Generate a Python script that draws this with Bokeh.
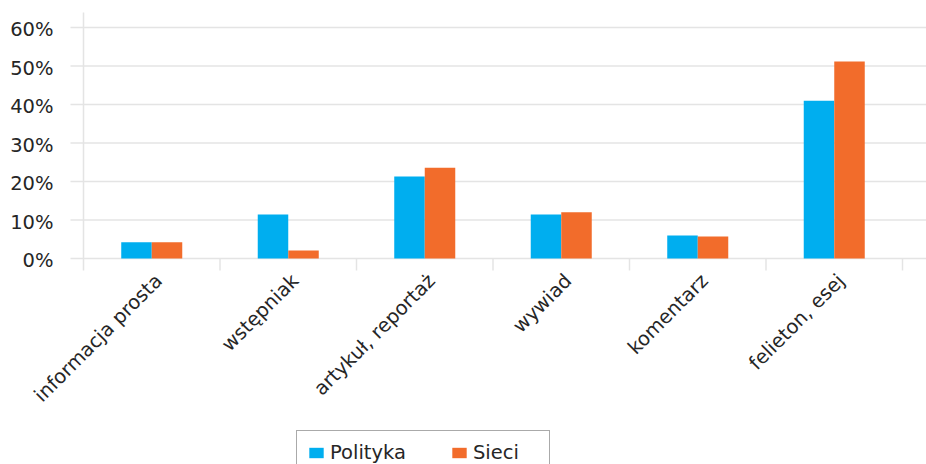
import math
from bokeh.plotting import figure
from bokeh.models import ColumnDataSource, Range1d, Legend, LegendItem
from bokeh.core.properties import value
from bokeh.transform import dodge
from bokeh.embed import file_html
from bokeh.resources import INLINE

categories = ["informacja prosta", "wstępniak", "artykuł, reportaż",
              "wywiad", "komentarz", "felieton, esej"]
polityka = [4.2, 11.4, 21.3, 11.4, 6.0, 41.0]
sieci = [4.2, 2.1, 23.6, 12.0, 5.7, 51.2]
y_ticks = [0, 10, 20, 30, 40, 50, 60]
y_tick_labels = ["0%", "10%", "20%", "30%", "40%", "50%", "60%"]
series_names = ["Polityka", "Sieci"]
colors = ["#00AEEF", "#F26C2B"]

# ---- layout constants (pixels) ----
W, H = 926, 464
GRID_LEFT = 70              # gridlines start here
TOP = 12                    # top of category axis line
ZERO_Y = 258                # pixel row of 0 %
UNIT = 136.5                # px per category
PXY = 3.85                  # px per percent
AXIS_X = 83                 # pixel column of category boundary 0
YLAB_RIGHT = 53             # right edge of y tick labels
FONT = "DejaVu Sans"
FS = "19.5px"
TXT = "#262626"
GRID = "#e4e4e4"

centers = [i + 0.5 for i in range(len(categories))]
src = ColumnDataSource(dict(x=centers, cat=categories, pol=polityka, sie=sieci))

# the plotting frame covers the whole canvas; pixel constants are converted
x0 = -AXIS_X / UNIT
x1 = (W - AXIS_X) / UNIT
y1 = ZERO_Y / PXY
y0 = -(H - ZERO_Y) / PXY

p = figure(width=W, height=H, output_backend="svg", toolbar_location=None,
           x_range=Range1d(x0, x1), y_range=Range1d(y0, y1),
           x_axis_location=None, y_axis_location=None,
           min_border_left=0, min_border_right=0, min_border_top=0,
           min_border_bottom=0)
p.outline_line_color = None
p.grid.visible = False

# horizontal gridlines
gx0 = (GRID_LEFT - AXIS_X) / UNIT
p.segment(x0=[gx0] * len(y_ticks), y0=y_ticks, x1=[x1] * len(y_ticks),
          y1=y_ticks, line_color=GRID, line_width=1.5)

# y tick labels
p.text(x=[(YLAB_RIGHT - AXIS_X) / UNIT] * len(y_ticks), y=y_ticks,
       text=y_tick_labels, text_align="right", text_baseline="middle",
       y_offset=2, text_font=value(FONT), text_font_size=FS, text_color=TXT)

# category axis line and separators
tick_len = 12 / PXY
top_val = (ZERO_Y - TOP) / PXY
bounds = list(range(len(categories) + 1))
p.segment(x0=bounds, y0=[-tick_len] * len(bounds), x1=bounds,
          y1=[top_val if b == 0 else 0 for b in bounds],
          line_color=GRID, line_width=1.5)

# bars
bw = 0.2235
r1 = p.vbar(x=dodge("x", -bw / 2, range=p.x_range), top="pol", width=bw,
            source=src, color=colors[0], line_color=None)
r2 = p.vbar(x=dodge("x", bw / 2, range=p.x_range), top="sie", width=bw,
            source=src, color=colors[1], line_color=None)

# category labels (rotated 45°)
p.text(x="x", y=-19 / PXY, text="cat", source=src, angle=math.pi / 4,
       x_offset=7, text_align="right", text_baseline="middle",
       text_font=value(FONT), text_font_size=FS, text_color=TXT)

legend = Legend(items=[LegendItem(label=series_names[0], renderers=[r1]),
                       LegendItem(label=series_names[1], renderers=[r2])],
                orientation="horizontal", location=(296, -11), margin=0,
                border_line_color="#555555", border_line_width=1.5,
                padding=10, spacing=44, label_standoff=5, label_width=66,
                glyph_width=18, glyph_height=13,
                label_text_font=FONT, label_text_font_size=FS,
                label_text_color=TXT, background_fill_alpha=1)
p.add_layout(legend)

open("out.html", "w").write(file_html(p, INLINE))
